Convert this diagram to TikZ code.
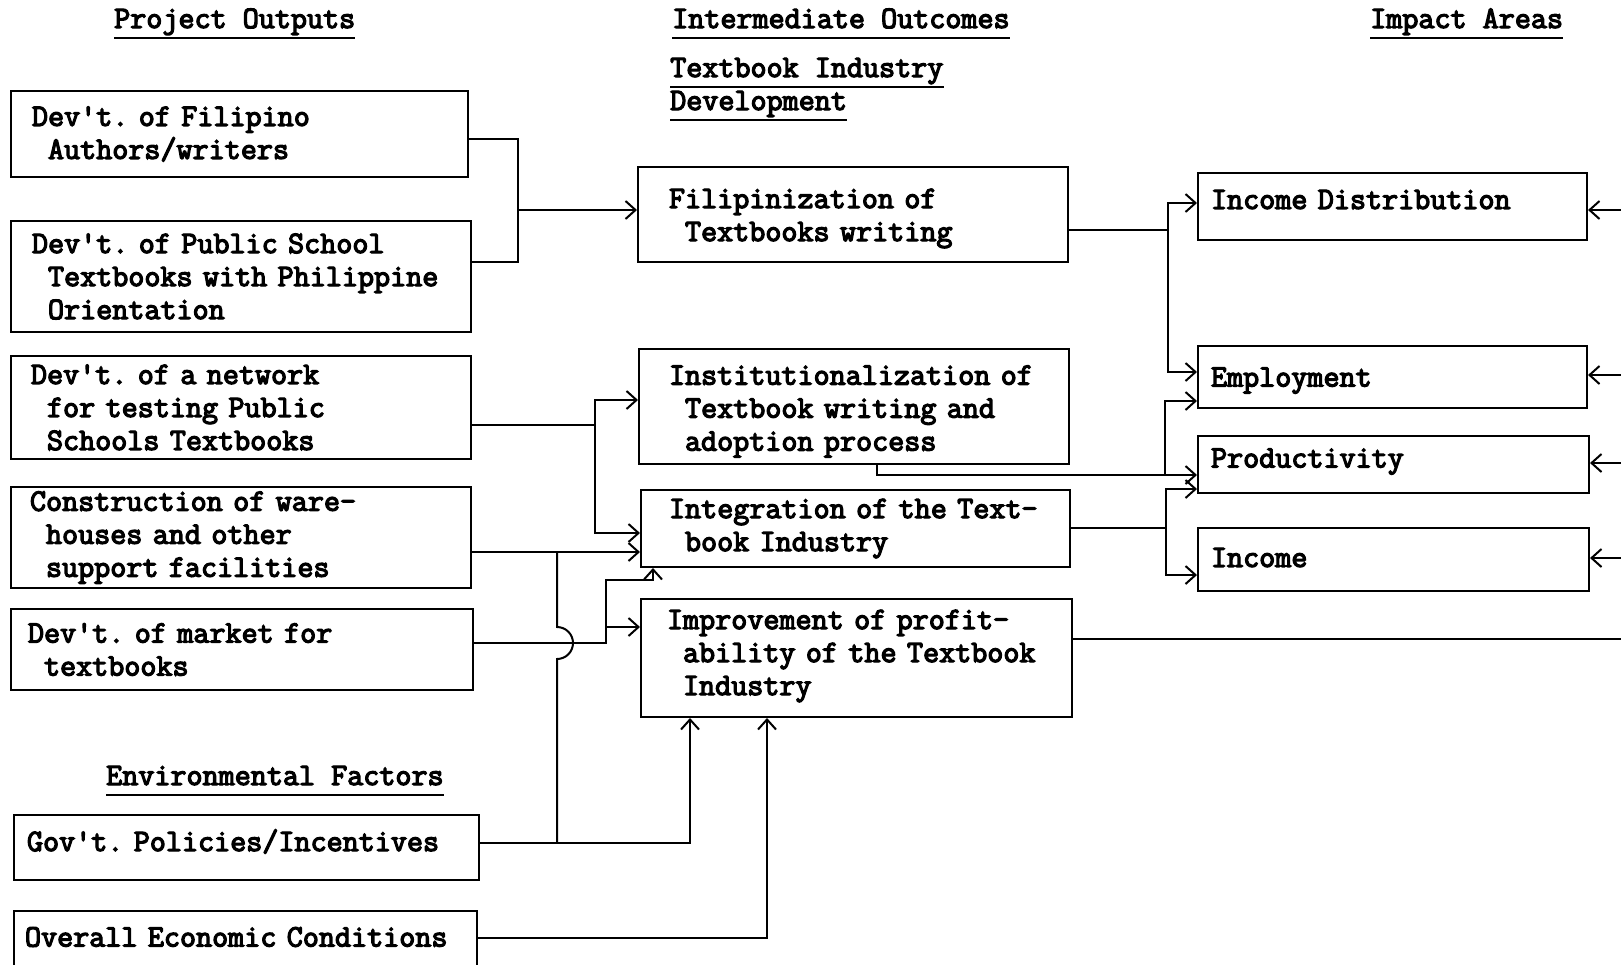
\documentclass[tikz,border=0pt]{standalone}
\usepackage{fontspec}
\newfontfamily\tw{Latin Modern Mono}[FakeBold=4]
\usetikzlibrary{arrows.meta}
\newcommand\ind{\hspace*{16pt}}
\newcommand\ap{\textquotesingle}
\begin{document}
\begin{tikzpicture}[x=1pt,y=-1pt,
  every node/.style={font=\tw\fontsize{31.2}{33}\selectfont\frenchspacing},
  box/.style={draw, line width=2pt, anchor=north west, inner xsep=0pt, inner ysep=0pt, align=left},
  lp/.style={execute at begin node={\leftskip=#1pt\relax}},
  rise/.style={execute at end node={\endgraf\vspace*{#1pt}}},
  hdr/.style={anchor=base west, inner sep=0pt},
  ul/.style={line width=2pt},
  ln/.style={line width=2pt},
  ar/.style={ln, -{Straight Barb[length=10pt,width=18pt]}},
  arb/.style={ln, {Straight Barb[length=10pt,width=18pt]}-{Straight Barb[length=10pt,width=18pt]}}
]
\useasboundingbox (0,0) rectangle (1621,964);
\fill[white] (0,0) rectangle (1621,964);
\clip (0,0) rectangle (1621,964);
\coordinate (R) at (1621,0);

% headers
\node[hdr] (h1) at (114,28) {Project Outputs};
\node[hdr] (h2) at (672,28) {Intermediate Outcomes};
\node[hdr] (h3) at (1370,28) {Impact Areas};
\node[hdr] (h4) at (670,77) {Textbook Industry};
\node[hdr] (h5) at (670,110) {Development};
\node[hdr] (h6) at (106,785) {Environmental Factors};
\foreach \h in {h1,h2,h3,h4,h5,h6}
  \draw[ul] ([yshift=-10pt]\h.base west) -- ([yshift=-10pt]\h.base east);

% project outputs
\node[box, lp=21, text width=457pt, minimum height=86pt] (b1) at (10,90)
  {Dev\ap t. of Filipino\\\ind Authors/writers};
\node[box, lp=21, text width=460pt, minimum height=111pt] (b2) at (10,220)
  {Dev\ap t. of Public School\\\ind Textbooks with Philippine\\\ind Orientation};
\node[box, lp=20, text width=460pt, minimum height=103pt] (b3) at (10,355)
  {Dev\ap t. of a network\\\ind for testing Public\\\ind Schools Textbooks};
\node[box, lp=19, text width=460pt, minimum height=101pt] (b4) at (10,486)
  {Construction of ware-\\\ind houses and other\\\ind support facilities};
\node[box, lp=17, text width=462pt, minimum height=81pt] (b5) at (10,608)
  {Dev\ap t. of market for\\\ind textbooks};

% environmental factors
\node[box, lp=13, rise=12, text width=465pt, minimum height=65pt] (g1) at (13,814)
  {Gov\ap t. Policies/Incentives};
\node[box, lp=11, rise=8, text width=463pt, minimum height=60pt] (o1) at (13,910)
  {Overall Economic Conditions};

% intermediate outcomes
\node[box, lp=31, rise=-8, text width=430pt, minimum height=95pt] (f1) at (637,166)
  {Filipinization of\\\ind Textbooks writing};
\node[box, lp=30, rise=-10, text width=430pt, minimum height=115pt] (i1) at (638,348)
  {Institutionalization of\\\ind Textbook writing and\\\ind adoption process};
\node[box, lp=28, text width=429pt, minimum height=77pt] (i2) at (640,489)
  {Integration of the Text-\\\ind book Industry};
\node[box, lp=26, rise=4, text width=431pt, minimum height=118pt] (m4) at (640,598)
  {Improvement of profit-\\\ind ability of the Textbook\\\ind Industry};

% impact areas
\node[box, lp=13, rise=14, text width=389pt, minimum height=67pt] (d1) at (1197,172) {Income Distribution};
\node[box, lp=13, rise=-8, text width=389pt, minimum height=62pt] (d2) at (1197,345) {Employment};
\node[box, lp=13, rise=6, text width=391pt, minimum height=57pt] (d3) at (1197,435) {Productivity};
\node[box, lp=13, rise=4, text width=391pt, minimum height=63pt] (d4) at (1197,527) {Income};

% connectors: project outputs -> intermediate outcomes
\draw[ln] (b1.east |- 0,139) -| (518,262) -- (b2.east |- 0,262);
\draw[ar] (518,210) -- (f1.west |- 0,210);

\draw[ln] (b3.east |- 0,425) -- (595,425);
\draw[arb] (i1.west |- 0,400) -| (595,533) -- (i2.west |- 0,533);

\draw[ar] (b4.east |- 0,552) -- (i2.west |- 0,552);

\draw[ar] (b5.east |- 0,643) -| (606,580) -| (i2.south -| 653,0);
\draw[ar] (606,627) -- (m4.west |- 0,627);

% environmental factors
\draw[ar] (g1.east |- 0,843) -| (m4.south -| 690,0);
\draw[ln] (557,843) -- (557,659) arc[start angle=-90, end angle=90, radius=16pt] -- (557,552);
\draw[ar] (o1.east |- 0,938) -| (m4.south -| 767,0);

% intermediate outcomes -> impact areas
\draw[ln] (f1.east |- 0,230) -- (1168,230);
\draw[arb] (d1.west |- 0,203) -| (1168,372) -- (d2.west |- 0,372);

\draw[ar] (i1.south -| 877,0) |- (d3.west |- 0,475);
\draw[ar] (1165,475) |- (d2.west |- 0,401);

\draw[ln] (i2.east |- 0,528) -- (1166,528);
\draw[arb] (d3.west |- 0,489) -| (1166,575) -- (d4.west |- 0,575);

% improvement of profitability -> impact areas (from the right)
\draw[ln] (m4.east |- 0,639) -- (R |- 0,639);
\draw[ar] (R |- 0,210) -- (d1.east |- 0,210);
\draw[ar] (R |- 0,375) -- (d2.east |- 0,375);
\draw[ar] (R |- 0,463) -- (d3.east |- 0,463);
\draw[ar] (R |- 0,558) -- (d4.east |- 0,558);
\end{tikzpicture}
\end{document}
